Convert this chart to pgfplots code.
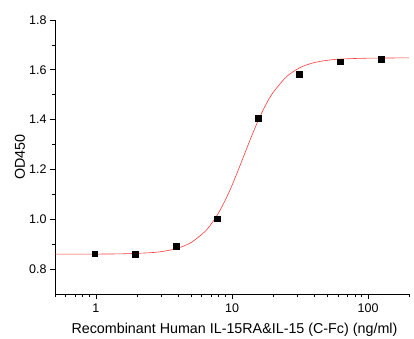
\documentclass[border=0pt]{standalone}
\usepackage{pgfplots}
\pgfplotsset{compat=1.18}
\usepackage{fontspec}
\setmainfont{Liberation Sans}
\definecolor{fitred}{RGB}{255,60,60}
\begin{document}
\begin{tikzpicture}
\begin{axis}[
  name=ax,
  scale only axis,
  width=354pt, height=274pt,
  xmode=log, xmin=0.5, xmax=200,
  ymin=0.7, ymax=1.8,
  axis x line*=bottom, axis y line*=left,
  tick align=outside,
  xtick={1,10,100}, xticklabels={1,10,100},
  minor xtick={0.5,0.6,0.7,0.8,0.9,2,3,4,5,6,7,8,9,20,30,40,50,60,70,80,90,200},
  ytick={0.8,1.0,1.2,1.4,1.6,1.8},
  yticklabel style={/pgf/number format/.cd,fixed,fixed zerofill,precision=1},
  minor y tick num=1,
  major tick length=5pt, minor tick length=3pt,
  every tick/.style={black, line width=0.7pt},
  axis line style={line width=0.9pt},
  /pgf/number format/assume math mode=true,
  ticklabel style={font=\fontsize{12.5}{14}\selectfont},
  label style={font=\fontsize{14.3}{16}\selectfont},
  xlabel={Recombinant Human IL-15RA\&IL-15 (C-Fc) (ng/ml)},
  ylabel={OD450},
  xlabel style={at={(axis description cs:0.507,-0.131)}, anchor=center},
  ylabel style={at={(axis description cs:-0.099,0.5)}, anchor=center},
  xticklabel style={yshift=-1pt},
  clip=false,
]
\addplot[fitred, line width=0.6pt, smooth] coordinates {
(0.501,0.8600) (1.000,0.8603) (1.585,0.8614) (2.512,0.8658) (3.162,0.8718)
(3.981,0.8837) (5.012,0.9070) (6.310,0.9503) (7.079,0.9829) (7.943,1.0247)
(8.913,1.0760) (10.00,1.1361) (11.22,1.2031) (12.59,1.2731) (14.13,1.3420)
(15.85,1.4056) (17.78,1.4611) (19.95,1.5071) (25.12,1.5721) (31.62,1.6089)
(39.81,1.6284) (50.12,1.6382) (63.10,1.6432) (100.0,1.6468) (199.5,1.6479)
};
\addplot[only marks, mark=square*, mark size=2.8pt, black] coordinates {
(0.977,0.862) (1.953,0.860) (3.906,0.892) (7.8125,1.002)
(15.625,1.405) (31.25,1.582) (62.5,1.632) (125,1.643)
};
\end{axis}
\pgfresetboundingbox
\path[use as bounding box] ([shift={(-55pt,-44pt)}]ax.south west) rectangle ([shift={(5pt,20pt)}]ax.north east);
\end{tikzpicture}
\end{document}
